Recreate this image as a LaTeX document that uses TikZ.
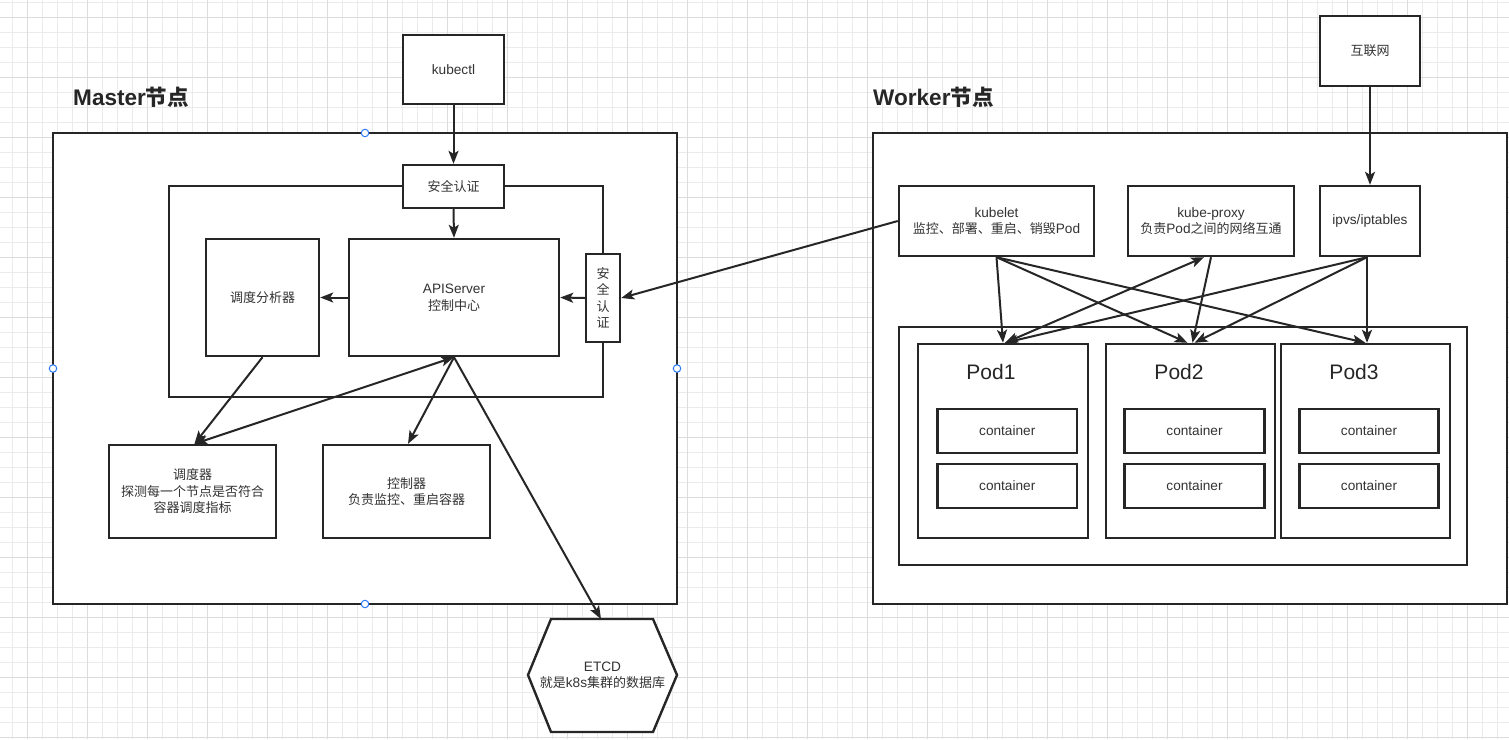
\documentclass[tikz,border=0pt]{standalone}
\usepackage{fontspec}
\setmainfont{Liberation Sans}[Scale=1.05]
\newfontfamily\cjk{Noto Sans CJK SC}
\newcommand\zh[1]{{\cjk #1}}
\usetikzlibrary{arrows.meta,calc}
\definecolor{lc}{HTML}{262626}
\definecolor{tc}{HTML}{333333}
\definecolor{gl}{HTML}{EBEBEB}
\definecolor{gd}{HTML}{DCDCDC}
\definecolor{hb}{HTML}{2C7BF5}
\begin{document}
\begin{tikzpicture}[x=1pt,y=-1pt,
  box/.style={draw=lc,line width=2.4pt,fill=white,text=tc,align=center,inner sep=0pt,font=\fontsize{13}{16.5}\selectfont},
  lbl/.style={text=tc,align=center,inner sep=0pt,font=\fontsize{13}{16.5}\selectfont},
  tip/.tip={Stealth[length=13pt,width=10pt,inset=3pt]},
  arr/.style={draw=lc,line width=2pt,-tip},
  darr/.style={draw=lc,line width=2pt,tip-tip},
  handle/.style={circle,draw=hb,fill=white,line width=1pt,minimum size=7.5pt,inner sep=0pt},
  title/.style={anchor=west,text=lc,font=\fontsize{21.5}{25}\selectfont\bfseries,inner sep=0pt},
  podlbl/.style={text=lc,font=\fontsize{20}{24}\selectfont,inner sep=0pt}]
% background and grid
\fill[white] (0,0) rectangle (1509,739);
\useasboundingbox (0,0) rectangle (1509,739);
\foreach \x in {12,27,...,1509} \draw[gl,line width=1pt] (\x,0) -- (\x,739);
\foreach \y in {2,17,...,739} \draw[gl,line width=1pt] (0,\y) -- (1509,\y);
\foreach \x in {27,87,...,1509} \draw[gd,line width=1pt] (\x,0) -- (\x,739);
\foreach \y in {17,77,...,739} \draw[gd,line width=1pt] (0,\y) -- (1509,\y);

% ---------- Master side ----------
\node[box,minimum width=624,minimum height=471] (master) at (365,368.5) {};
\node[title] (mt) at (73,97) {Master\zh{节点}};
\node[box,minimum width=434,minimum height=211] (inner) at (386,291.5) {};
\node[box,minimum width=101,minimum height=69] (kubectl) at (453.5,69.5) {kubectl};
\node[box,minimum width=101,minimum height=43] (authtop) at (453.5,186.5) {\zh{安全认证}};
\node[box,minimum width=113,minimum height=117] (analyzer) at (262.5,297.5) {\zh{调度分析器}};
\node[box,minimum width=210,minimum height=117] (api) at (454,297.5) {APIServer\\\zh{控制中心}};
\node[box,minimum width=34,minimum height=88] (authright) at (603,298) {\zh{安}\\\zh{全}\\\zh{认}\\\zh{证}};
\node[box,minimum width=167,minimum height=93] (sched) at (192.5,491.5) {\zh{调度器}\\\zh{探测每一个节点是否符合}\\\zh{容器调度指标}};
\node[box,minimum width=167,minimum height=93] (ctrl) at (406.5,491.5) {\zh{控制器}\\\zh{负责监控、重启容器}};
\draw[draw=lc,line width=2.4pt,fill=white,line join=miter] (528,675) -- (551,619) -- (653,619) -- (677,675) -- (653,732) -- (551,732) -- cycle;
\node[lbl] (etcd) at (602.5,675.5) {ETCD\\\zh{就是}k8s\zh{集群的数据库}};
\coordinate (etcdtop) at (601,619);

% selection handles
\node[handle] (h1) at (365,133) {};
\node[handle] (h2) at (53,368.5) {};
\node[handle] (h3) at (677,368.5) {};
\node[handle] (h4) at (365,604) {};

% ---------- Worker side ----------
\node[box,minimum width=634,minimum height=471] (worker) at (1190,368.5) {};
\node[title] (wt) at (873,97) {Worker\zh{节点}};
\node[box,minimum width=100,minimum height=70] (internet) at (1370,51) {\zh{互联网}};
\node[box,minimum width=195,minimum height=70] (kubelet) at (996.5,221) {kubelet\\\zh{监控、部署、重启、销毁}Pod};
\node[box,minimum width=166,minimum height=70] (kproxy) at (1211,221) {kube-proxy\\\zh{负责}Pod\zh{之间的网络互通}};
\node[box,minimum width=100,minimum height=70] (ipvs) at (1370,221) {ipvs/iptables};
\node[box,minimum width=568,minimum height=238] (podouter) at (1183,446) {};
\node[box,minimum width=170,minimum height=194] (pod1) at (1003,441) {};
\node[box,minimum width=169,minimum height=194] (pod2) at (1190.5,441) {};
\node[box,minimum width=169,minimum height=194] (pod3) at (1365.5,441) {};
\node[podlbl] (p1l) at (991,372) {Pod1};
\node[podlbl] (p2l) at (1179,372) {Pod2};
\node[podlbl] (p3l) at (1354,372) {Pod3};
\node[box,minimum width=139.5,minimum height=44] (c11) at (1007.25,431) {container};
\node[box,minimum width=139.5,minimum height=44] (c12) at (1007.25,486) {container};
\node[box,minimum width=140,minimum height=44] (c21) at (1194.5,431) {container};
\node[box,minimum width=140,minimum height=44] (c22) at (1194.5,486) {container};
\node[box,minimum width=139,minimum height=44] (c31) at (1369,431) {container};
\node[box,minimum width=139,minimum height=44] (c32) at (1369,486) {container};

% ---------- connectors ----------
\draw[arr] (kubectl.south) -- (authtop.north);
\draw[arr] (authtop.south) -- (api.north);
\draw[arr] (api.west) -- (analyzer.east);
\draw[arr] (authright.west) -- (api.east);
\draw[arr] (kubelet.west) -- (authright.east);
\draw[arr] (analyzer.south) -- ([xshift=2pt]sched.north);
\draw[darr] (api.south) -- ([xshift=2pt]sched.north);
\draw[arr] (api.south) -- ([xshift=1.5pt]ctrl.north);
\draw[arr] (api.south) -- (etcdtop);

\draw[arr] (internet.south) -- (ipvs.north);
\draw[arr] (kubelet.south) -- (pod1.north);
\draw[arr] (kubelet.south) -- ([xshift=-3pt]pod2.north);
\draw[arr] (kubelet.south) -- (pod3.north);
\draw[darr] ([xshift=2pt]pod1.north) -- ([xshift=-7pt]kproxy.south);
\draw[arr] (kproxy.south) -- ([xshift=2pt]pod2.north);
\draw[arr] ([xshift=-3pt]ipvs.south) -- ([xshift=2pt]pod1.north);
\draw[arr] ([xshift=-3pt]ipvs.south) -- ([xshift=4pt]pod2.north);
\draw[arr] ([xshift=-3pt]ipvs.south) -- ([xshift=1.5pt]pod3.north);
\end{tikzpicture}
\end{document}
